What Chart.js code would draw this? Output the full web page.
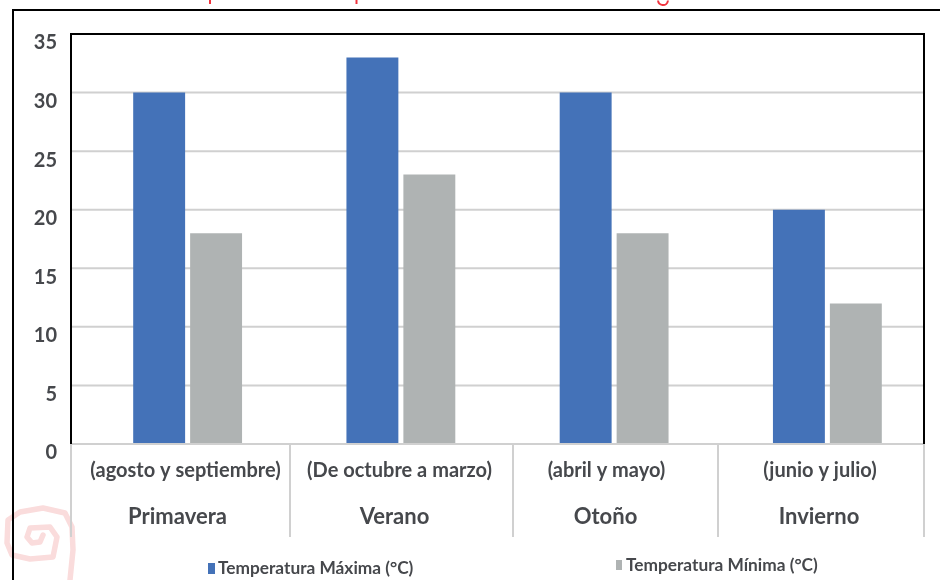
<!DOCTYPE html>
<html>
<head>
<meta charset="utf-8">
<script src="https://cdn.jsdelivr.net/npm/chart.js@4"></script>
<style>
    html, body { margin: 0; padding: 0; background: #ffffff; }
    #wrap { width: 940px; height: 580px; }
</style>
</head>
<body>
<div id="wrap"><canvas id="chart" width="940" height="580"></canvas></div>
<script>
const seasons = ["Primavera", "Verano", "Otoño", "Invierno"];
const months = ["(agosto y septiembre)", "(De octubre a marzo)", "(abril y mayo)", "(junio y julio)"];
const tempMax = [30, 33, 30, 20];
const tempMin = [18, 23, 18, 12];

const TEXT = "#46484c";
const GRID = "#d0d0d0";
const FONT = "Lato, 'Open Sans', sans-serif";

// the original frame sits 10px left of the bars' bands, so it is drawn by hand
const frameLeft = 71;
const frameRight = 924;
const separators = [71, 290, 513, 718, 924];
const separatorBottom = 537;

// label centres are not quite the middle of each row cell in the original
const monthShift = [5, -2, -9, -1];
const seasonShift = [-3, -7, -10, -2];

// cropped-off artwork around the picture
const spiral = [[70, 580], [73, 550], [72, 527], [65, 513], [43, 508], [20, 512], [8, 520], [7, 543],
    [12, 555], [30, 559], [53, 557], [57, 537], [50, 527], [30, 528], [27, 537], [32, 543], [40, 542], [43, 535]];

function line(ctx, x1, y1, x2, y2, color, width) {
    ctx.strokeStyle = color;
    ctx.lineWidth = width;
    ctx.beginPath();
    ctx.moveTo(x1, y1);
    ctx.lineTo(x2, y2);
    ctx.stroke();
}

const framePlugin = {
    id: "frame",

    beforeDatasetsDraw(chart) {
        const ctx = chart.ctx;
        const y = chart.scales.y;

        ctx.save();

        // watermark
        ctx.strokeStyle = "#fadcdc";
        ctx.lineWidth = 5.5;
        ctx.lineJoin = "round";
        ctx.lineCap = "round";
        ctx.beginPath();
        spiral.forEach((p, i) => i ? ctx.lineTo(p[0], p[1]) : ctx.moveTo(p[0], p[1]));
        ctx.stroke();
        ctx.lineCap = "butt";

        // outer black rule and the red title remains
        line(ctx, 13, 10, 940, 10, "#000000", 2);
        line(ctx, 13, 9, 13, 580, "#000000", 2);
        line(ctx, 210, 0, 210, 4, "#f0323c", 2);
        line(ctx, 356.5, 0, 356.5, 4, "#f0323c", 2);
        ctx.strokeStyle = "#f0323c";
        ctx.lineWidth = 2;
        ctx.beginPath();
        ctx.arc(663, 0, 5, 0.1, Math.PI - 0.1);
        ctx.stroke();

        // gridlines
        y.ticks.forEach((t) => {
            if (t.value > 0 && t.value < 35) {
                const py = y.getPixelForValue(t.value);
                line(ctx, frameLeft, py, frameRight, py, GRID, 2);
            }
        });

        ctx.restore();
    },

    afterDatasetsDraw(chart) {
        const ctx = chart.ctx;
        const y = chart.scales.y;
        const top = y.getPixelForValue(35);
        const zero = y.getPixelForValue(0);

        ctx.save();

        // category rows
        line(ctx, frameLeft, zero, frameRight + 1, zero, GRID, 2);
        separators.forEach((sx) => line(ctx, sx, zero, sx, separatorBottom, GRID, 2));

        // black box round the plot
        line(ctx, frameLeft - 1, top, frameRight + 1, top, "#000000", 2);
        line(ctx, frameLeft, top, frameLeft, zero, "#000000", 2);
        line(ctx, frameRight, top, frameRight, zero, "#000000", 2);

        ctx.fillStyle = TEXT;
        ctx.textAlign = "center";
        ctx.textBaseline = "middle";
        seasons.forEach((name, i) => {
            const cx = (separators[i] + separators[i + 1]) / 2;
            ctx.font = "bold 20px " + FONT;
            ctx.fillText(months[i], cx + monthShift[i], 471);
            ctx.font = "bold 22px " + FONT;
            ctx.fillText(name, cx + seasonShift[i], 517);
        });

        // legend, the two entries are not aligned in the original
        ctx.textAlign = "left";
        ctx.font = "bold 17.3px " + FONT;
        const ds = chart.data.datasets;
        ctx.fillStyle = ds[0].backgroundColor;
        ctx.fillRect(208, 563, 7, 11);
        ctx.fillStyle = ds[1].backgroundColor;
        ctx.fillRect(616, 560, 6, 10);
        ctx.fillStyle = TEXT;
        ctx.fillText(ds[0].label, 218, 568);
        ctx.fillText(ds[1].label, 626, 565);

        ctx.restore();
    }
};

new Chart(document.getElementById("chart"), {
    type: "bar",

    data: {
        labels: seasons,

        datasets: [
            {
                label: "Temperatura Máxima (°C)",
                data: tempMax,
                backgroundColor: "#4472b8",
                categoryPercentage: 0.534,
                barPercentage: 0.912
            },
            {
                label: "Temperatura Mínima (°C)",
                data: tempMin,
                backgroundColor: "#afb3b3",
                categoryPercentage: 0.534,
                barPercentage: 0.912
            }
        ]
    },

    options: {
        responsive: false,
        animation: false,

        layout: {
            padding: { top: 34, right: 6, bottom: 136, left: 0 }
        },

        plugins: {
            legend: { display: false },
            tooltip: { enabled: false }
        },

        scales: {
            x: {
                afterFit(scale) {
                    scale.height = 0;
                    scale.paddingLeft = 0;
                    scale.paddingRight = 0;
                },
                grid: { display: false },
                border: { display: false },
                ticks: { display: false }
            },

            y: {
                min: 0,
                max: 35,
                afterFit(scale) {
                    scale.width = 81;
                    scale.paddingTop = 0;
                    scale.paddingBottom = 0;
                },
                grid: { display: false },
                border: { display: false },
                ticks: {
                    stepSize: 5,
                    padding: 16,
                    labelOffset: 9,
                    color: TEXT,
                    font: { family: FONT, size: 20, weight: "bold" }
                }
            }
        }
    },

    plugins: [framePlugin]
});
</script>
</body>
</html>
